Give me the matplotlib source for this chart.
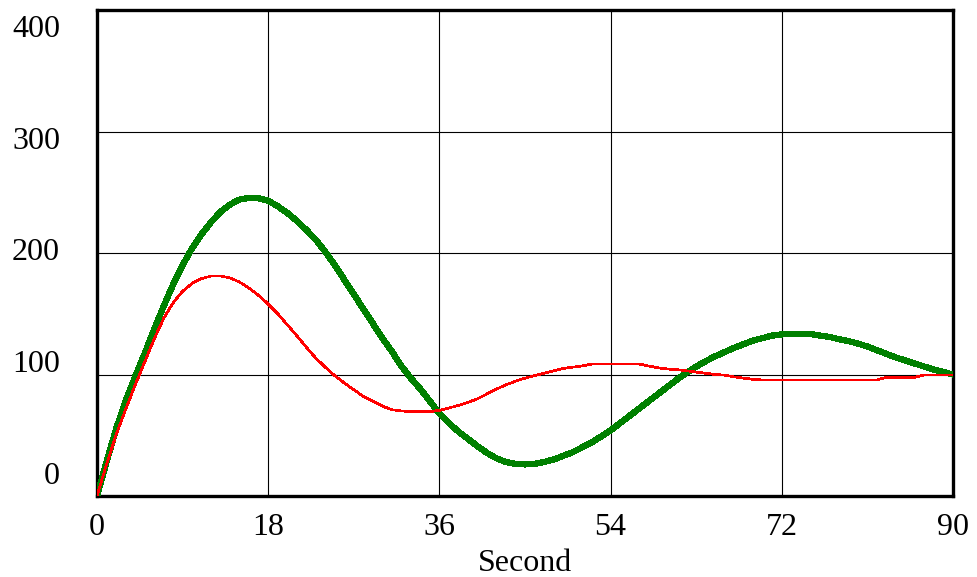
import matplotlib
matplotlib.use("Agg")
import matplotlib.pyplot as plt

# time axis (seconds) and the two simulated series
time = list(range(0, 91))
green_series = [0, 28, 55, 78, 98, 117, 137, 156, 174, 190,
                204, 215.5, 225.5, 234, 240, 244, 245.5, 245, 243, 238.5,
                233, 226.5, 219, 211, 201, 190, 178, 166, 154, 142,
                130, 119, 107, 97, 88, 78, 68, 60, 53, 47,
                41, 35.5, 31, 28, 26.5, 26, 26.5, 28, 30, 33,
                36, 40, 44, 49, 54, 60, 66, 72, 78, 84,
                90, 96, 101.5, 106.5, 111, 115, 118.5, 122, 125, 128,
                130, 132, 133, 133.5, 133.5, 133.3, 132, 131, 129, 127.5,
                125.5, 123, 120, 117, 114, 111.5, 109, 106.5, 104, 102,
                100]
red_series = [0, 26, 50, 71, 91, 110, 129, 146, 159, 168.5,
              175, 179, 181, 181, 179.5, 176, 171, 165, 158, 150,
              141, 132, 122.5, 113.5, 106, 99, 93, 87.5, 82, 78,
              74, 71, 70, 69.4, 69.4, 69.4, 70.5, 72.5, 74.5, 77,
              80, 84, 88, 91.5, 94.5, 97, 99, 101, 103, 105,
              106, 107, 108.6, 108.6, 108.6, 108.6, 108.6, 108.6, 107, 105.5,
              104.5, 104, 103, 102, 101, 100, 99.5, 98, 97, 96,
              95.5, 95.5, 95.5, 95.5, 95.5, 95.5, 95.5, 95.5, 95.5, 95.5,
              95.5, 95.5, 95.5, 97.7, 97.7, 97.7, 97.7, 99.6, 99.6, 99.6,
              99.6]

x_ticks = [0, 18, 36, 54, 72, 90]
y_ticks = [0, 100, 200, 300, 400]

plt.rcParams['font.family'] = ['Liberation Serif', 'DejaVu Serif']

fig = plt.figure(figsize=(9.77, 5.77), dpi=100)
ax = fig.add_axes([97 / 977, 1 - 496 / 577, 856 / 977, 486 / 577])

ax.plot(time, green_series, color='#008000', lw=3.8, antialiased=False,
        solid_capstyle='butt', zorder=3)
ax.plot(time, red_series, color='#ff0000', lw=1.2, antialiased=False, zorder=4)

ax.set_xlim(0, 90)
ax.set_ylim(0, 400)
ax.set_xticks(x_ticks)
ax.set_xticklabels([str(t) for t in x_ticks], fontsize=23)
ax.set_yticks(y_ticks)
ax.set_yticklabels([])
ax.tick_params(length=0)
ax.tick_params(axis='x', pad=12.5)
ax.grid(True, color='black', lw=0.8)
ax.set_axisbelow(True)

# Vensim spreads the y labels evenly inside the frame
for v in y_ticks:
    yfrac = 0.041 + v / 400 * 0.918
    ax.text(-37 / 856, yfrac, str(v), transform=ax.transAxes, ha='right',
            va='center', fontsize=23)

for s in ax.spines.values():
    s.set_linewidth(2.4)
    s.set_color('black')

ax.set_xlabel('Second', fontsize=23, labelpad=5)

fig.savefig('out.png', dpi=100)
